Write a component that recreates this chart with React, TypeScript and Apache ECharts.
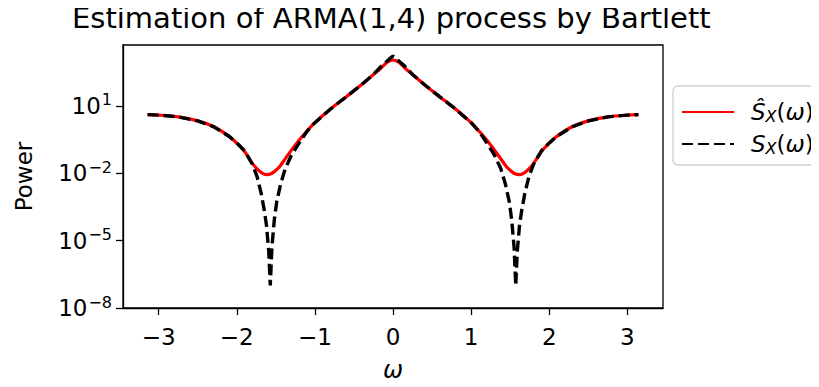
import React, { useEffect, useRef } from 'react';
import * as echarts from 'echarts';

// True spectrum S_X(omega)
const omegaTrue = [
  -3.1416, -3.0, -2.75, -2.5, -2.3, -2.1, -2.0, -1.9, -1.8, -1.74, -1.69, -1.65, -1.62, -1.59, -1.571,
  -1.55, -1.52, -1.49, -1.44, -1.38, -1.3, -1.2, -1.1, -1.0, -0.8, -0.6, -0.4, -0.25, -0.15, -0.1, -0.05,
  0,
  0.05, 0.1, 0.15, 0.25, 0.4, 0.6, 0.8, 1.0, 1.1, 1.2, 1.3, 1.38, 1.44, 1.49, 1.52, 1.55,
  1.571, 1.59, 1.62, 1.65, 1.69, 1.74, 1.8, 1.9, 2.0, 2.1, 2.3, 2.5, 2.75, 3.0, 3.1416,
];
const powerTrue = [
  4.07, 3.89, 3.24, 2.14, 1.2, 0.447, 0.224, 0.1, 0.0251, 7.08e-3, 1.41e-3, 2.51e-4, 5.01e-5, 3.16e-6, 1.0e-7,
  5.01e-6, 7.94e-5, 5.01e-4, 3.16e-3, 0.0158, 0.0631, 0.224, 0.741, 1.78, 7.24, 25.1, 89.1, 251, 589, 832, 1200,
  1660,
  1200, 832, 589, 251, 89.1, 25.1, 7.24, 1.78, 0.741, 0.224, 0.0631, 0.0158, 3.16e-3, 5.01e-4, 7.94e-5, 5.01e-6,
  1.0e-7, 3.16e-6, 5.01e-5, 2.51e-4, 1.41e-3, 7.08e-3, 0.0251, 0.1, 0.224, 0.447, 1.2, 2.14, 3.24, 3.89, 4.07,
];

// Bartlett estimate Ŝ_X(omega)
const omegaEst = [
  -3.1416, -3.0, -2.75, -2.5, -2.3, -2.1, -2.0, -1.9, -1.8, -1.74, -1.68, -1.62, -1.56, -1.51, -1.45, -1.38,
  -1.3, -1.2, -1.1, -1.0, -0.8, -0.6, -0.4, -0.25, -0.18, -0.12, -0.08, -0.04,
  0,
  0.04, 0.08, 0.12, 0.18, 0.25, 0.4, 0.6, 0.8, 1.0, 1.1, 1.2, 1.3, 1.38, 1.45, 1.51, 1.56, 1.62, 1.68,
  1.74, 1.8, 1.9, 2.0, 2.1, 2.3, 2.5, 2.75, 3.0, 3.1416,
];
const powerEst = [
  4.07, 3.89, 3.24, 2.14, 1.2, 0.447, 0.219, 0.0933, 0.0275, 0.0158, 0.0105, 8.71e-3, 9.55e-3, 0.0126, 0.02, 0.0437,
  0.107, 0.302, 0.759, 1.78, 7.24, 25.1, 89.1, 251, 398, 631, 851, 1020,
  1100,
  1020, 851, 631, 398, 251, 89.1, 25.1, 7.24, 1.78, 0.759, 0.302, 0.107, 0.0437, 0.02, 0.0126, 9.55e-3, 8.71e-3, 0.0105,
  0.0158, 0.0275, 0.0933, 0.219, 0.447, 1.2, 2.14, 3.24, 3.89, 4.07,
];

const xTicks = [-3, -2, -1, 0, 1, 2, 3];
const yTicks = [1e-8, 1e-5, 1e-2, 1e1];
const xRange = [-3.456, 3.456];
const yRange = [1e-8, 5130];

const estName = 'Ŝ_X(ω)';
const trueName = 'S_X(ω)';
const titleText = 'Estimation of ARMA(1,4) process by Bartlett';

const FONT = 'DejaVu Sans';

export default function App() {
  const ref = useRef<HTMLDivElement>(null);
  useEffect(() => {
    if (!ref.current) return;
    const chart = echarts.init(ref.current, null, { renderer: 'svg' });
    const option: any = {
      animation: false,
      backgroundColor: '#ffffff',
      title: {
        text: titleText,
        left: 72,
        top: 3,
        padding: 0,
        textStyle: { fontFamily: FONT, fontSize: 29, fontWeight: 'normal', color: '#000' },
      },
      grid: {
        left: 123,
        right: 156,
        top: 45,
        bottom: 72,
        show: true,
        borderColor: '#000',
        borderWidth: 1.3,
        backgroundColor: 'transparent',
      },
      legend: {
        orient: 'vertical',
        left: 673,
        top: 86,
        padding: [14, 10, 9, 8],
        itemWidth: 52,
        itemHeight: 28,
        itemGap: 8,
        backgroundColor: '#fff',
        borderColor: '#d0d0d0',
        borderWidth: 1.3,
        borderRadius: 5,
        itemStyle: { opacity: 0 },
        data: [estName, trueName],
        formatter: (name: string) =>
          name === estName
            ? '{i|Ŝ}{sub|X}{n|(}{w|ω}{n|)}'
            : '{i|S}{sub|X}{n|(}{w|ω}{n|)}',
        textStyle: {
          fontFamily: FONT,
          fontSize: 23,
          color: '#000',
          rich: {
            i: { fontFamily: FONT, fontStyle: 'italic', fontSize: 23, color: '#000', padding: [0, 0, 0, 12], lineHeight: 28 },
            sub: { fontFamily: FONT, fontStyle: 'italic', fontSize: 16, color: '#000', padding: [8, 0, 0, 0], lineHeight: 28 },
            n: { fontFamily: FONT, fontSize: 23, color: '#000', lineHeight: 28 },
            w: { fontFamily: FONT, fontStyle: 'italic', fontSize: 23, color: '#000', lineHeight: 28 },
          },
        },
      },
      xAxis: {
        type: 'value',
        min: xRange[0],
        max: xRange[1],
        name: 'ω',
        nameLocation: 'middle',
        nameGap: 50,
        nameTextStyle: { fontFamily: FONT, fontStyle: 'italic', fontSize: 24, color: '#000' },
        axisLine: { show: true, onZero: false, lineStyle: { color: '#000', width: 1.3 } },
        axisTick: { show: true, length: 7, customValues: xTicks, lineStyle: { color: '#000', width: 1.3 } },
        axisLabel: {
          customValues: xTicks,
          margin: 17,
          fontFamily: FONT,
          fontSize: 23,
          color: '#000',
          formatter: (v: number) => (v < 0 ? '\u2212' : '') + Math.abs(v),
        },
        splitLine: { show: false },
      },
      yAxis: {
        type: 'log',
        logBase: 10,
        min: yRange[0],
        max: yRange[1],
        name: 'Power',
        nameLocation: 'middle',
        nameGap: 88,
        nameTextStyle: { fontFamily: FONT, fontSize: 23, color: '#000' },
        axisLine: { show: true, onZero: false, lineStyle: { color: '#000', width: 1.3 } },
        axisTick: { show: true, length: 7, customValues: yTicks, lineStyle: { color: '#000', width: 1.3 } },
        axisLabel: {
          customValues: yTicks,
          margin: 11,
          fontFamily: FONT,
          fontSize: 23,
          color: '#000',
          formatter: (v: number) => {
            const e = Math.round(Math.log10(v));
            return '{b|10}{s|' + (e < 0 ? '\u2212' : '') + Math.abs(e) + '}';
          },
          rich: {
            b: { fontFamily: FONT, fontSize: 23, color: '#000' },
            s: { fontFamily: FONT, fontSize: 16, color: '#000', padding: [0, 0, 12, 1] },
          },
        },
        splitLine: { show: false },
      },
      series: [
        {
          name: estName,
          type: 'line',
          data: omegaEst.map((w, i) => [w, powerEst[i]]),
          symbol: 'none',
          showSymbol: false,
          smooth: 0.3,
          lineStyle: { color: '#ff0000', width: 3.2 },
          itemStyle: { color: '#ff0000' },
          z: 2,
        },
        {
          name: trueName,
          type: 'line',
          data: omegaTrue.map((w, i) => [w, powerTrue[i]]),
          symbol: 'none',
          showSymbol: false,
          lineStyle: { color: '#000', width: 3.4, type: [11, 5] },
          itemStyle: { color: '#000' },
          z: 3,
        },
      ],
    };
    chart.setOption(option);
    return () => chart.dispose();
  }, []);
  return <div ref={ref} style={{ width: 819, height: 387, margin: -8 }} />;
}
